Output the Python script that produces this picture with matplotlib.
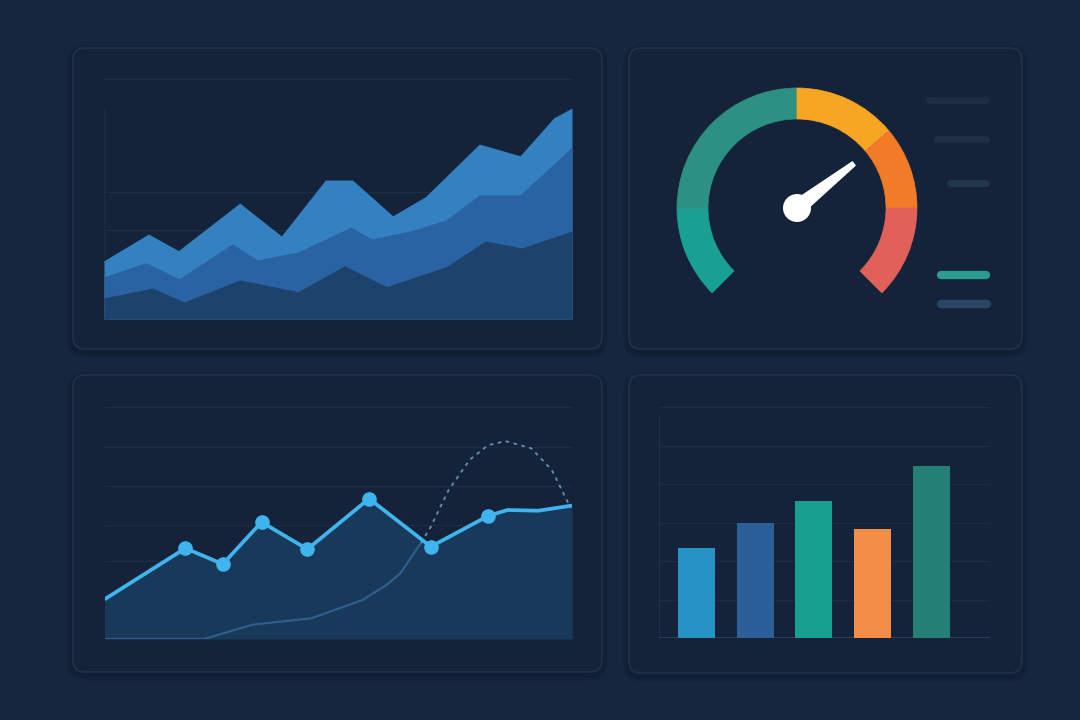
import numpy as np
import matplotlib
matplotlib.use("Agg")
import matplotlib.pyplot as plt
from matplotlib.patches import FancyBboxPatch, Wedge, Circle, Polygon

# ---- data (x in % of plot width, y in % of plot height) ----
# panel 1: three stacked areas
area_light_x = [0, 9.5, 15.9, 29, 37.9, 47.3, 53.1, 61.7, 68.7, 80.2, 88.9, 96.1, 100]
area_light_y = [24.3, 35.4, 28.5, 48.3, 34.6, 57.9, 57.9, 43, 51, 72.9, 68, 83.8, 87.9]
area_mid_x = [0, 9, 16, 27.4, 32.8, 41.5, 52.8, 57.2, 65.7, 73.1, 80.2, 88.9, 100]
area_mid_y = [17.6, 23.5, 16.7, 31.3, 24.6, 28, 38.3, 33.3, 36.8, 41.3, 51.7, 51.7, 71.7]
area_dark_x = [0, 10.4, 17.1, 29, 41.5, 51.4, 60.4, 73.1, 81.5, 89.3, 100]
area_dark_y = [8.8, 12.9, 7.1, 16.3, 11.4, 22.2, 13.5, 21.8, 32.5, 29.6, 36.7]
area_grid = [100, 52.9, 37.1]

# panel 2: gauge
gauge_segments = [(180, 225), (90, 180), (40, 90), (0, 40), (-45, 0)]   # degrees
gauge_colors = ['#19a092', '#2c9182', '#f7a624', '#f27b28', '#e0605a']
needle_deg = 38

# panel 3: line with markers plus a thin trend curve
line_x = [0, 17.3, 25.3, 33.6, 43.4, 56.6, 69.8, 82.1, 86.2, 92.8, 100]
line_y = [17.1, 39.1, 32.3, 50.4, 38.7, 60.5, 39.8, 53.1, 55.6, 55.3, 57.5]
marker_idx = [1, 2, 3, 4, 5, 6, 7]
trend_x = [0, 21.3, 31.7, 44.2, 55.2, 60.5, 63.3, 67.7]
trend_y = [0, 0, 6.2, 8.9, 16.8, 23.5, 28.4, 41.4]
proj_x = [67.7, 69.8, 73.6, 78.1, 82, 85.8, 91.3, 95.7, 99.4]
proj_y = [41.4, 48.4, 64.2, 77.2, 83.5, 85.3, 82.2, 72.8, 57.8]
line_grid = [100, 82.8, 66, 49.1, 33.6, 16.8]

# panel 4: bars
bar_values = [2.34, 2.99, 3.56, 2.83, 4.47]
bar_colors = ['#2593c5', '#2a5f97', '#17a090', '#f48d46', '#248077']

W, H = 1080, 720
BG = '#15263e'
PANEL = '#142339'
EDGE = '#1f3249'
GRID = '#1b2d44'

fig = plt.figure(figsize=(10.8, 7.2), dpi=100)
fig.patch.set_facecolor(BG)
bg = fig.add_axes([0, 0, 1, 1])
bg.set_xlim(0, W)
bg.set_ylim(H, 0)
bg.axis('off')


def panel(x0, y0, x1, y1):
    # soft shadow, then the rounded card
    for k, al in [(6, 0.18), (4, 0.25), (2, 0.35)]:
        sh = FancyBboxPatch((x0 - k, y0 - k + 3), x1 - x0 + 2 * k, y1 - y0 + 2 * k,
                            boxstyle='round,pad=0,rounding_size=%d' % (12 + k),
                            fc='#0f1c2d', ec='none', alpha=al)
        bg.add_patch(sh)
    box = FancyBboxPatch((x0, y0), x1 - x0, y1 - y0,
                         boxstyle='round,pad=0,rounding_size=12',
                         fc=PANEL, ec=EDGE, lw=1.2)
    bg.add_patch(box)


def px_axes(x0, y0, x1, y1):
    ax = fig.add_axes([x0 / W, 1 - y1 / H, (x1 - x0) / W, (y1 - y0) / H])
    ax.set_facecolor('none')
    ax.axis('off')
    return ax


panel(73, 48, 602, 349)
panel(629, 48, 1022, 349)
panel(73, 375, 602, 672)
panel(629, 375, 1022, 673)

# ---- panel 1 ----
ax1 = px_axes(104, 79, 572, 319)
ax1.set_xlim(0, 100)
ax1.set_ylim(0, 100)
for g in area_grid:
    ax1.axhline(g, color=GRID, lw=1.0, zorder=0)
ax1.plot([0, 0], [0, 87.9], color=GRID, lw=1.0, zorder=0)
ax1.fill_between(area_light_x, 0, area_light_y, color='#3381c0', lw=0, zorder=1)
ax1.fill_between(area_mid_x, 0, area_mid_y, color='#2a63a3', lw=0, zorder=2)
ax1.fill_between(area_dark_x, 0, area_dark_y, color='#1d436c', lw=0, zorder=3)

# ---- panel 2 ----
ax2 = px_axes(629, 48, 1022, 349)
ax2.set_xlim(629, 1022)
ax2.set_ylim(720 - 349, 720 - 48)
cx, cy = 797, 720 - 208
for (t1, t2), c in zip(gauge_segments, gauge_colors):
    ax2.add_patch(Wedge((cx, cy), 120, t1, t2, width=31, fc=c, ec=c, lw=0.5))
a = np.deg2rad(needle_deg)
ux, uy = np.cos(a), np.sin(a)
nx, ny = -uy, ux
L = 72
needle = Polygon([(cx + nx * 7.5, cy + ny * 7.5), (cx + ux * L + nx * 2.2, cy + uy * L + ny * 2.2),
                  (cx + ux * L - nx * 2.2, cy + uy * L - ny * 2.2), (cx - nx * 7.5, cy - ny * 7.5)],
                 closed=True, fc='white', ec='white', lw=1, joinstyle='round')
ax2.add_patch(needle)
ax2.add_patch(Circle((cx, cy), 14, fc='white', ec='none'))
legend_lines = [(929, 986, 100, '#1c2e43', 5), (937, 986, 139, '#1d2f45', 5),
                (950, 986, 183, '#23354b', 5), (941, 986, 275, '#2a9d8f', 6),
                (941, 987, 304, '#2b4665', 6)]
for x0, x1, y, c, lw in legend_lines:
    ax2.plot([x0, x1], [720 - y, 720 - y], color=c, lw=lw, solid_capstyle='round')

# ---- panel 3 ----
ax3 = px_axes(104.5, 407, 572, 639)
ax3.set_xlim(0, 100)
ax3.set_ylim(0, 100)
for g in line_grid:
    ax3.axhline(g, color=GRID, lw=1.0, zorder=0)
ax3.fill_between(line_x, 0, line_y, color='#19395a', lw=0, zorder=1)
ax3.plot(trend_x, trend_y, color='#2f6090', lw=1.5, zorder=2)
ax3.plot(proj_x, proj_y, color='#6a8fb3', lw=1.3, ls=(0, (2, 2.5)), zorder=2)
ax3.plot(line_x, line_y, color='#3fb4ee', lw=2.7, zorder=3, solid_capstyle='butt')
ax3.plot([line_x[i] for i in marker_idx], [line_y[i] for i in marker_idx], 'o',
         color='#3fb4ee', ms=9.5, zorder=4)

# ---- panel 4 ----
ax4 = px_axes(659, 407, 990, 638)
ax4.set_xlim(-0.643, 5.005)
ax4.set_ylim(0, 6)
for g in range(1, 7):
    ax4.axhline(g, color=GRID, lw=1.0, zorder=0)
ax4.plot([-0.643, -0.643], [0, 5.74], color='#21344b', lw=1.2, zorder=0)
ax4.axhline(0, color='#2a3d56', lw=1.5, zorder=0)
ax4.bar(range(len(bar_values)), bar_values, width=0.63, color=bar_colors, zorder=2)

fig.savefig('out.png', dpi=100, facecolor=BG)
